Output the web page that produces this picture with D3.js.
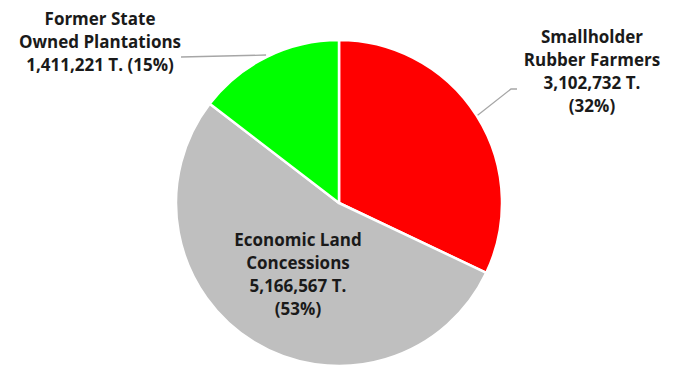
<!DOCTYPE html>
<html>
<head>
<meta charset="utf-8">
<script src="https://cdn.jsdelivr.net/npm/d3@7"></script>
<style>
  html, body { margin: 0; padding: 0; background: #fff; }
  svg { display: block; }
  .lbl { font-family: "Open Sans", Lato, sans-serif; font-weight: 700; font-size: 17px; fill: #1a1a1a; }
</style>
</head>
<body>
<svg id="chart" width="678" height="366"></svg>
<script>
// Rubber production by producer type (tonnes)
const categories = ["Smallholder Rubber Farmers", "Economic Land Concessions", "Former State Owned Plantations"];
const values = [3102732, 5166567, 1411221];
const colors = ["#ff0000", "#bfbfbf", "#00ff00"];
const labelLines = [
  ["Smallholder", "Rubber Farmers", "3,102,732 T.", "(32%)"],
  ["Economic Land", "Concessions", "5,166,567 T.", "(53%)"],
  ["Former State", "Owned Plantations", "1,411,221 T. (15%)"]
];

const width = 678, height = 366;
const cx = 339, cy = 203, r = 163;
const lineH = 23;

const svg = d3.select("#chart");
const g = svg.append("g").attr("transform", `translate(${cx},${cy})`);

const data = categories.map((c, i) => ({ name: c, value: values[i], color: colors[i], lines: labelLines[i] }));

const pie = d3.pie().value(d => d.value).sort(null);
const arcs = pie(data);
const arc = d3.arc().innerRadius(0).outerRadius(r);

g.selectAll("path.slice")
  .data(arcs)
  .join("path")
  .attr("class", "slice")
  .attr("d", arc)
  .attr("fill", d => d.data.color)
  .attr("stroke", "#fff")
  .attr("stroke-width", 2.5)
  .attr("stroke-linejoin", "round");

// point on the rim at each slice's mid angle
const rimPoint = (a, rad) => {
  const m = (a.startAngle + a.endAngle) / 2;
  return [rad * Math.sin(m), -rad * Math.cos(m)];
};

const leader = g.append("g")
  .attr("fill", "none")
  .attr("stroke", "#a6a6a6")
  .attr("stroke-width", 1.3);

// Smallholder: elbow leader to the upper right
{
  const p = rimPoint(arcs[0], r + 1);
  const elbow = [511 - cx, 89 - cy];
  const end = [517 - cx, 89 - cy];
  leader.append("polyline").attr("points", [p, elbow, end].map(q => q.join(",")).join(" "));
}
// Former State: nearly straight leader to the left
{
  const p = rimPoint(arcs[2], r + 2);
  const end = [181 - cx, 57 - cy];
  leader.append("polyline").attr("points", [p, end].map(q => q.join(",")).join(" "));
}

// label blocks (centre x, first baseline y) in page coordinates
const labelPos = [
  [592, 43],
  [298, 246],
  [100, 25]
];

data.forEach((d, i) => {
  const [lx, ly] = labelPos[i];
  const t = svg.append("text").attr("class", "lbl").attr("text-anchor", "middle");
  d.lines.forEach((ln, j) => {
    t.append("tspan").attr("x", lx).attr("y", ly + j * lineH).text(ln);
  });
});
</script>
</body>
</html>
